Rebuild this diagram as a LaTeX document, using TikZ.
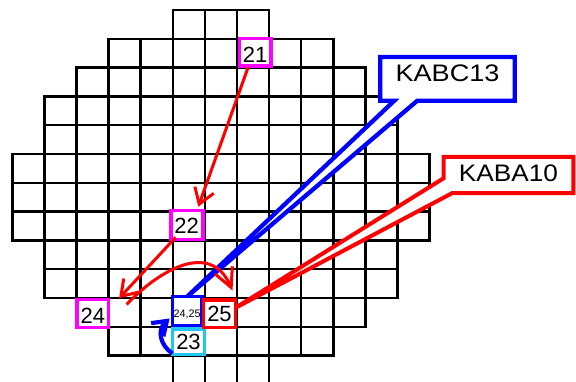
\documentclass[tikz,border=0pt]{standalone}
\usepackage{fontspec}
\setmainfont{Liberation Sans}
\usetikzlibrary{arrows.meta,calc}
\definecolor{mag}{RGB}{255,0,255}
\definecolor{cyn}{RGB}{33,197,242}
\pgfdeclarelayer{gridlayer}
\pgfdeclarelayer{calllayer}
\pgfsetlayers{gridlayer,calllayer,main}
\newcommand{\fittext}[4]{\raisebox{\dimexpr#1pt-#3pt/2\relax}[0pt][0pt]{\resizebox{#2pt}{#3pt}{#4}}}
\newcommand{\numtxt}[2]{\raisebox{\dimexpr#1pt-7.9pt\relax}[0pt][0pt]{\fontsize{22}{22}\selectfont #2}}
\begin{document}
\begin{tikzpicture}[x=1pt,y=-1pt,
  gridline/.style={draw=black,line width=2.5pt},
  numbox/.style={rectangle,draw,fill=white,inner sep=0pt,outer sep=0pt},
  callbox/.style={rectangle,inner sep=0pt,outer sep=0pt},
  callline/.style={fill=white,line join=miter},
  redarrow/.style={draw=red,line width=3pt,-{Straight Barb[length=15pt,width=20pt]}},
]
\useasboundingbox (0,0) rectangle (576,382);

% grid
\begin{pgfonlayer}{gridlayer}
\foreach \r/\a/\b in {0/5/7,1/3/9,2/2/10,3/1/11,4/1/11,5/0/12,6/0/12,7/0/12,8/1/11,9/1/11,10/2/10,11/3/9,12/5/7}{
  \foreach \c in {\a,...,\b}{
    \draw[gridline] ({12.3+32.1*\c},{10+28.8*\r}) rectangle ++(32.1,28.8);
  }
}
\end{pgfonlayer}

% callout texts
\node[callbox,minimum width=134.4pt,minimum height=43.7pt] (k13) at (447.5,78.85) {\fittext{5.5}{104}{16.7}{KABC13}};
\node[callbox,minimum width=129.7pt,minimum height=36.4pt] (k10) at (508.4,175) {\fittext{1.7}{99}{16.7}{KABA10}};

% numbered boxes
\node[numbox,draw=mag,line width=3.6pt,minimum width=31.7pt,minimum height=27.7pt] (n21) at (255.2,52.2) {\numtxt{-2.3}{21}};
\node[numbox,draw=mag,line width=3.6pt,minimum width=32pt,minimum height=28.7pt] (n22) at (186.7,225) {\numtxt{-0.8}{22}};
\node[numbox,draw=mag,line width=3.6pt,minimum width=31.7pt,minimum height=28.3pt] (n24) at (92.8,313.5) {\numtxt{-2}{24}};
\node[numbox,draw=cyn,line width=3.4pt,minimum width=32pt,minimum height=25.7pt] (n23) at (188.5,341.7) {\numtxt{0}{23}};
\node[numbox,draw=blue,line width=3.4pt,minimum width=29.3pt,minimum height=28.7pt] (n2425) at (187.2,310.9) {\fittext{-2.4}{27}{7.6}{24,25}};
\node[numbox,draw=red,line width=3.8pt,minimum width=32pt,minimum height=27.5pt] (n25) at (219.5,313.8) {\numtxt{0.5}{25}};

% callout outlines with wedges
\begin{pgfonlayer}{calllayer}
\draw[callline,draw=blue,line width=4.3pt] (k13.south west) -- (k13.north west) -- (k13.north east) -- (k13.south east)
  -- ($(k13.south west)+(37,0)$) -- (n2425.north) -- ($(k13.south west)+(14,0)$) -- cycle;
\draw[callline,draw=red,line width=4pt] ($(k10.north west)+(0,21.5)$) -- (k10.north west) -- (k10.north east) -- (k10.south east)
  -- ($(k10.south west)+(8.5,0)$) -- ($(n25.east)+(0,-6)$) -- cycle;
\end{pgfonlayer}

% red arrows
\draw[redarrow] ($(n21.south)+(-7,1)$) -- ($(n22.north)+(11.6,-4)$);
\draw[redarrow] ($(n22.south west)+(5,-2)$) -- ($(n24.north east)+(10.4,-1)$);
\coordinate (cs) at ($(n24.east)+(18,-9)$);
\coordinate (ce) at ($(n25.north)+(13,-9.5)$);
\draw[redarrow,-{Straight Barb[length=19pt,width=19pt]}] (cs) .. controls ($(cs)+(30,-32)$) and ($(ce)+(-22.5,-52)$) .. (ce);

% blue curved arrow
\coordinate (bs) at ($(n23.south west)+(0,-1)$);
\coordinate (bt) at ($(n2425.south west)+(-3,-6.8)$);
\draw[blue,line width=4.2pt,-{Straight Barb[length=13pt,width=18pt]}] (bs) .. controls ($(bs)+(-12,-8)$) and ($(bt)+(-13,12)$) .. (bt);
\end{tikzpicture}
\end{document}
